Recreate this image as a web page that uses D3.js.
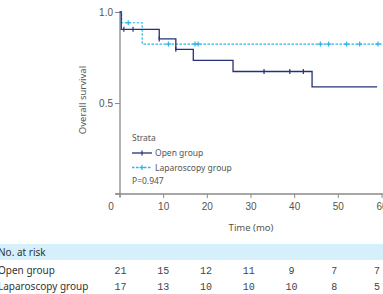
<!DOCTYPE html>
<html><head><meta charset="utf-8">
<script src="https://cdn.jsdelivr.net/npm/d3@7"></script>
<style>body{margin:0;background:#fff}svg{display:block}</style>
</head><body>
<script>
// ---- data ----
const groups = ["Open group", "Laparoscopy group"];
const openSteps = [[0,1.0],[0.4,0.905],[9.1,0.852],[12.9,0.795],[16.9,0.734],[26,0.673],[44.1,0.589],[59,0.589]];
const openCensor = [1.0,3.1,9.1,12.9,33.1,39.0,42.1];
const lapSteps = [[0,1.0],[0.5,0.941],[5.2,0.824],[60,0.824]];
const lapCensor = [2.0,11.2,17.3,18.0,46,47.9,52,55,59.2];
const xTicks = [0,10,20,30,40,50,60];
const yTicks = [0.5,1.0];
const riskTimes = [0,10,20,30,40,50,60];
const riskOpen = [21,15,12,11,9,7,7];
const riskLap = [17,13,10,10,10,8,5];
const pValue = "P=0.947";

const W=383,H=294;
const svg=d3.select("body").append("svg").attr("width",W).attr("height",H);
const x=d3.scaleLinear().domain([0,60]).range([119.5,381.5]);
const y=d3.scaleLinear().domain([0,1]).range([194,12]);
const colOpen="#25307a", colLap="#2cb5e6", axisCol="#8a8a8a", txt="#555";

// axes
const gy=svg.append("g").attr("transform","translate(120,0)")
  .call(d3.axisLeft(y).tickValues(yTicks).tickFormat(d3.format(".1f")).tickSize(5).tickPadding(2));
gy.select(".domain").remove();
gy.append("line").attr("x1",0).attr("x2",0).attr("y1",y(1)).attr("y2",197).attr("stroke",axisCol).attr("stroke-width",1.3);
gy.append("line").attr("x1",-4).attr("x2",0).attr("y1",y(0)).attr("y2",y(0)).attr("stroke",axisCol);
gy.selectAll(".tick line").attr("stroke",axisCol);
gy.selectAll("text").attr("fill",txt).style("font-family","Liberation Sans, Arial").style("font-size","10px");

const gx=svg.append("g").attr("transform","translate(0,194)")
  .call(d3.axisBottom(x).tickValues(xTicks).tickSize(4).tickPadding(5));
gx.select(".domain").remove();
gx.append("line").attr("x1",115).attr("x2",383).attr("y1",0).attr("y2",0).attr("stroke",axisCol).attr("stroke-width",1.3);
gx.selectAll(".tick line").attr("stroke",axisCol);
gx.selectAll("text").attr("fill",txt).style("font-family","Liberation Sans, Arial").style("font-size","10px")
  .attr("dx",d=>d===0?-9:0);

svg.append("text").attr("transform","translate(86,100) rotate(-90)").attr("text-anchor","middle")
  .attr("fill",txt).style("font-family","Noto Sans").style("font-size","9.5px").text("Overall survival");
svg.append("text").attr("x",251).attr("y",231).attr("text-anchor","middle")
  .attr("fill",txt).style("font-family","Noto Sans").style("font-size","9.5px").text("Time (mo)");

// curves
const line=d3.line().x(d=>x(d[0])).y(d=>y(d[1])).curve(d3.curveStepAfter);
svg.append("path").attr("d",line(lapSteps)).attr("fill","none").attr("stroke",colLap).attr("stroke-width",1.2).attr("stroke-dasharray","2.5,1.5");
svg.append("path").attr("d",line(openSteps)).attr("fill","none").attr("stroke",colOpen).attr("stroke-width",1.3);

function survAt(steps,t){let s=steps[0][1];for(const d of steps){if(d[0]<=t)s=d[1];}return s;}
svg.selectAll(".co").data(openCensor).join("line")
  .attr("x1",d=>x(d)).attr("x2",d=>x(d)).attr("y1",d=>y(survAt(openSteps,d))-2.5).attr("y2",d=>y(survAt(openSteps,d))+2.5)
  .attr("stroke",colOpen).attr("stroke-width",1.2);
const lc=svg.selectAll(".cl").data(lapCensor).join("g").attr("transform",d=>`translate(${x(d)},${y(survAt(lapSteps,d))})`);
lc.append("line").attr("y1",-2.5).attr("y2",2.5).attr("stroke",colLap).attr("stroke-width",1.2);
lc.append("line").attr("x1",-2.5).attr("x2",2.5).attr("stroke",colLap).attr("stroke-width",1.2);

// legend
const lf="Noto Sans";
svg.append("text").attr("x",132).attr("y",141).attr("fill",txt).style("font-family",lf).style("font-size","8.5px").text("Strata");
const lg=svg.selectAll(".lg").data(groups).join("g").attr("transform",(d,i)=>`translate(132,${153+i*14.5})`);
lg.append("line").attr("x1",0).attr("x2",20).attr("stroke",(d,i)=>i?colLap:colOpen).attr("stroke-width",1.3)
  .attr("stroke-dasharray",(d,i)=>i?"2.5,1.5":null);
lg.append("line").attr("x1",10).attr("x2",10).attr("y1",-2.5).attr("y2",2.5).attr("stroke",(d,i)=>i?colLap:colOpen).attr("stroke-width",1.2);
lg.filter((d,i)=>i===1).append("line").attr("x1",7.5).attr("x2",12.5).attr("stroke",colLap).attr("stroke-width",1.2);
lg.append("text").attr("x",23).attr("y",3).attr("fill",txt).style("font-family",lf).style("font-size","8.5px").text(d=>d);
svg.append("text").attr("x",132).attr("y",184).attr("fill",txt).style("font-family",lf).style("font-size","8.5px").text(pValue);

// risk table
svg.append("rect").attr("x",0).attr("y",244).attr("width",W).attr("height",16).attr("fill","#d5f0fb");
svg.append("text").attr("x",-2).attr("y",256).attr("fill","#333").style("font-family",lf).style("font-size","10px").text("No. at risk");
const rows=[riskOpen,riskLap];
const tx=d3.scaleLinear().domain([0,60]).range([120.5,377]);
rows.forEach((r,i)=>{
  const yy=273.5+i*16.5;
  svg.append("text").attr("x",-2).attr("y",yy).attr("fill","#333").style("font-family",lf).style("font-size","10px").text(groups[i]);
  svg.selectAll(".r"+i).data(r).join("text").attr("x",(d,j)=>tx(riskTimes[j])).attr("y",yy).attr("text-anchor","middle")
    .attr("fill","#444").style("font-family","Liberation Mono").style("font-size","10px").text(d=>d);
});
</script>
</body></html>
